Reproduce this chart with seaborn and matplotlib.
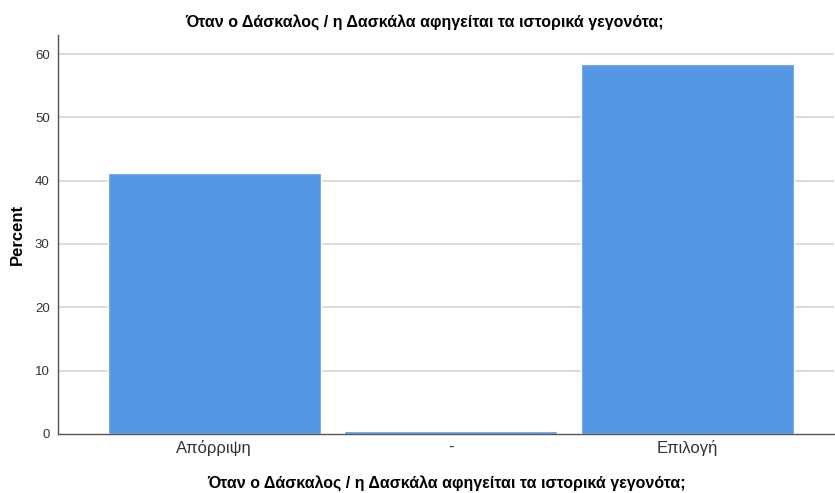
import matplotlib
matplotlib.use("Agg")
import pandas as pd
import seaborn as sns
import matplotlib.pyplot as plt

categories = ["Απόρριψη", "-", "Επιλογή"]
percents = [41.2, 0.4, 58.4]
y_ticks = [0, 10, 20, 30, 40, 50, 60]
title = "Όταν ο Δάσκαλος / η Δασκάλα αφηγείται τα ιστορικά γεγονότα;"

sns.set_style("white")
plt.rcParams['font.family'] = ['Liberation Sans', 'DejaVu Sans']

df = pd.DataFrame({"cat": categories, "pct": percents})

fig = plt.figure(figsize=(8.35, 4.93), dpi=100)
ax = fig.add_axes([0.0695, 0.1197, 0.9295, 0.8093])

for y in y_ticks[1:]:
    ax.axhline(y, color="#d4d4d4", lw=1.2, zorder=0)

sns.barplot(data=df, x="cat", y="pct", color="#5596e5", width=0.9,
            saturation=1, ax=ax, zorder=2)

ax.set_xlim(-0.66, 2.62)
ax.set_ylim(0, 63)
ax.set_yticks(y_ticks)
ax.tick_params(axis="y", length=0, labelsize=9.5, pad=6, colors="#333333")
ax.tick_params(axis="x", length=0, labelsize=12, pad=4, colors="#333333")

for s in ["top", "right"]:
    ax.spines[s].set_visible(False)
for s in ["left", "bottom"]:
    ax.spines[s].set_color("#555555")
    ax.spines[s].set_linewidth(1)

ax.set_ylabel("Percent", fontsize=12, fontweight="bold", labelpad=7, color="black")
ax.set_xlabel(title, fontsize=11.5, fontweight="bold", labelpad=14, color="black")
fig.text(425 / 835, 1 - 22 / 493, title, ha="center", va="center",
         fontsize=11.5, fontweight="bold", color="black")

fig.savefig("out.png", dpi=100)
